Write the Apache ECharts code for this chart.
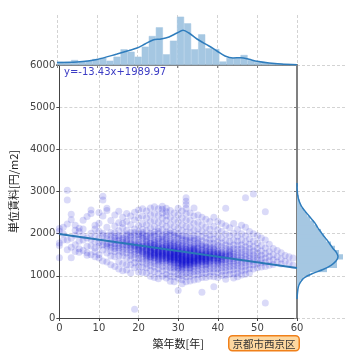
<!DOCTYPE html>
<html><head><meta charset="utf-8">
<script src="https://cdn.jsdelivr.net/npm/echarts@6/dist/echarts.min.js"></script>
<style>html,body{margin:0;padding:0;background:#fff}#c{width:360px;height:360px}</style>
</head><body><div id="c"></div>
<script>
// ---- data ----
const xTicks = [0, 10, 20, 30, 40, 50, 60];
const yTicks = [0, 1000, 2000, 3000, 4000, 5000, 6000];
const slope = -13.43;
const intercept = 1989.97;
const equationText = 'y=-13.43x+1989.97';
const areaName = '京都市西京区';
const xName = '築年数[年]';
const yName = '単位賃料[円/m2]';

// scatter: [age, [unit rents...]]
const ageRents = [
 [0,[2120,2060,1780,1720,1430]],
 [1,[2150,1850,1990]],
 [2,[3030,2800,1850,1620,2230]],
 [3,[2460,2330,1680,1430,1890]],
 [4,[2200,1960,1740,1580,2080]],
 [5,[2130,2050,1820,1640,1560]],
 [6,[2110,1850,1600,1950,2320]],
 [7,[2410,1700,1550,1900,1490]],
 [8,[2560,2010,1860,1500,1710,2480]],
 [9,[2200,1950,2110,1660,1450,1810,1570]],
 [10,[2500,2060,1900,2250,1700,1500,1420,1790]],
 [11,[2890,2800,2420,2010,1820,1610,1350,1960,1740]],
 [12,[2600,2550,2150,1880,1760,1690,1540,1330,1950,1720]],
 [13,[2310,2030,1870,1790,1740,1680,1590,1470,1260,1960]],
 [14,[2440,2180,1930,1830,1760,1710,1650,1580,1450,1220,2020,1890]],
 [15,[2530,2260,2070,1910,1840,1770,1720,1660,1590,1480,1330,1160,1950]],
 [16,[2390,2140,1980,1890,1800,1740,1700,1630,1560,1470,1290,1120,2240,1850]],
 [17,[2480,2290,2080,1950,1870,1790,1730,1690,1620,1540,1430,1270,1140,1990,1830]],
 [18,[2420,2210,2030,1920,1850,1780,1710,1670,1610,1550,1480,1390,1260,1070,1960,1750]],
 [19,[2510,2330,2110,1960,1870,1800,1740,1690,1630,1580,1510,1420,1310,1190,210,2030,1720]],
 [20,[2560,2380,2190,2040,1930,1860,1790,1740,1690,1640,1590,1540,1480,1410,1330,1220,1090,1980,1710,1620]],
 [21,[2590,2420,2240,2100,1980,1890,1820,1760,1710,1660,1620,1580,1530,1470,1400,1320,1210,1080,1940,1690,1560,2030]],
 [22,[2540,2370,2210,2070,1960,1870,1800,1740,1690,1650,1610,1570,1530,1480,1420,1360,1280,1190,1070,1820,1600,1510,1710,1930,1450]],
 [23,[2610,2450,2290,2130,2010,1910,1830,1760,1710,1660,1620,1580,1540,1500,1450,1390,1320,1240,1130,990,1680,1600,1560,1780,1420,1960,1470]],
 [24,[2640,2480,2320,2170,2040,1940,1850,1780,1720,1670,1630,1590,1550,1510,1470,1420,1360,1290,1210,1100,960,1650,1610,1530,1490,1740,1440,1810,1980]],
 [25,[2590,2430,2270,2120,2000,1900,1820,1750,1690,1640,1600,1560,1520,1480,1440,1390,1330,1260,1170,1060,930,1660,1580,1500,1710,1410,1870,1540,2050,1350]],
 [26,[2650,2580,2490,2370,2230,2090,1970,1870,1790,1720,1660,1610,1570,1530,1490,1450,1410,1360,1300,1220,1120,990,1640,1550,1470,1680,1390,1820,1510,1930]],
 [27,[2600,2520,2430,2310,2170,2040,1930,1840,1770,1710,1660,1610,1570,1530,1490,1450,1410,1360,1300,1230,1140,1030,950,1690,1590,1510,1430,1740,1380,1880,1550,1990]],
 [28,[2550,2390,2230,2080,1960,1860,1780,1720,1660,1610,1570,1530,1490,1450,1410,1370,1320,1260,1190,1100,990,870,1640,1550,1470,1390,1700,1340,1820,1510,2010,1430]],
 [29,[2490,2330,2170,2030,1920,1830,1760,1700,1650,1600,1560,1520,1480,1440,1400,1360,1310,1250,1180,1090,980,860,1620,1540,1460,1380,1680,1330,1790,1500,1970,1420,1580,1210]],
 [30,[2600,2440,2280,2130,2000,1890,1800,1730,1670,1620,1570,1530,1490,1450,1410,1370,1330,1290,1240,1180,1110,1030,940,650,1600,1510,1430,1350,1650,1310,1760,1470,1940,1390,1550,1200]],
 [31,[2540,2370,2210,2070,1950,1850,1770,1700,1640,1590,1540,1500,1460,1420,1380,1340,1300,1260,1210,1150,1080,1000,910,810,1570,1480,1400,1320,1620,1280,1730,1440,1900,1360,1520,1180,1240]],
 [32,[2850,2770,2690,2600,2470,2320,2170,2040,1930,1840,1760,1690,1630,1580,1530,1490,1450,1410,1370,1330,1290,1250,1200,1140,1070,980,860,1560,1470,1390,1310,1610,1270,1720,1430,1880,1350]],
 [33,[2490,2320,2160,2020,1900,1800,1720,1650,1590,1540,1490,1450,1410,1370,1330,1290,1250,1200,1140,1070,990,880,1520,1430,1350,1560,1270,1680,1390,1850,1460,1310,1180,1610]],
 [34,[2610,2420,2240,2080,1950,1840,1750,1680,1620,1570,1520,1480,1440,1400,1360,1320,1280,1230,1170,1100,1020,900,1550,1460,1380,1590,1300,1710,1420,1890,1340,1650]],
 [35,[2440,2270,2110,1980,1870,1780,1700,1640,1580,1530,1490,1450,1410,1370,1330,1290,1240,1180,1110,1030,920,1510,1430,1350,1560,1270,1660,1390,1820,1470]],
 [36,[2390,2210,2060,1930,1830,1740,1670,1610,1560,1520,1480,1440,1400,1360,1320,1270,1210,1140,1060,960,610,1500,1420,1340,1540,1380,1700,1460]],
 [37,[2340,2160,2010,1890,1790,1710,1640,1580,1530,1490,1450,1410,1370,1330,1280,1220,1150,1070,960,1510,1430,1350,1560,1390,1680,1260]],
 [38,[2290,2110,1970,1860,1770,1690,1620,1560,1510,1470,1430,1390,1350,1300,1240,1170,1090,990,1490,1410,1540,1330,1650,1450]],
 [39,[2390,2170,2000,1870,1770,1690,1620,1560,1510,1470,1430,1390,1350,1300,1240,1170,1090,980,740,1490,1410,1530,1640]],
 [40,[2290,2090,1930,1810,1720,1640,1580,1520,1470,1430,1390,1350,1300,1240,1170,1080,960,1490,1410,1550,1330]],
 [41,[2240,2050,1900,1780,1690,1610,1550,1500,1450,1410,1370,1320,1260,1190,1110,1010,1470,1390,1530]],
 [42,[2600,2190,1990,1840,1730,1650,1580,1520,1470,1420,1380,1330,1270,1200,1120,1020,920,1490]],
 [43,[2140,1950,1810,1710,1630,1560,1500,1450,1400,1350,1290,1220,1140,1040,1480,1590]],
 [44,[2240,2010,1850,1730,1640,1570,1510,1460,1410,1360,1300,1230,1150,1050,950]],
 [45,[2100,1940,1820,1720,1630,1560,1490,1430,1370,1310,1240,1160,1070,980]],
 [46,[2200,2000,1850,1730,1640,1560,1490,1420,1360,1290,1210,1120,1020]],
 [47,[2850,2150,1950,1800,1690,1600,1520,1450,1380,1310,1230,1140,1040]],
 [48,[2050,1880,1750,1650,1560,1480,1410,1340,1260,1170,1070]],
 [49,[2940,2000,1820,1690,1590,1500,1420,1340,1260,1160]],
 [50,[1950,1780,1650,1550,1460,1380,1290,1190]],
 [51,[1900,1720,1590,1490,1400,1310,1210]],
 [52,[2520,1850,1660,1530,1420,1320,1220,355]],
 [53,[1750,1580,1460,1360,1250]],
 [54,[1650,1500,1380,1270]],
 [55,[1600,1450,1330]],
 [56,[1550,1400,1280]],
 [57,[1480,1340]],
 [58,[1450,1300]],
 [59,[1420,1250]]
];

// top marginal histogram (34 equal bins over 0-60 years), bar heights
const ageHist = [3.3,3.3,5,3.3,4.3,6,7.3,4.3,8.3,15.7,13.3,8.3,18.3,29,37.7,10.7,24.3,48.3,41.7,15.7,30.7,16.7,16,3.5,7,7,10,5,3,2.5,2,1.5,1,0.5];
// top marginal KDE
const ageKdeX = [0,5,10,15,18,20,22,24,26,28,30,31.5,33,35,38,40,42,44,46,48,50,53,56,60];
const ageKdeY = [2.5,3,5.5,11,14.5,17,21,25,26,28,32,34.7,32,26,19,14,9,7,7.3,5.7,3.7,2,1,0.2];

// right marginal histogram (bins of 100 from 0 to 6000), bar lengths
const rentHist = [0,0,0,0,0,0,0.5,1,3,6,13,30,40,40,46,42,38,34,29,27,24,20,17,13,10,7,4,3,2,1,1,0,0,0,0,0,0,0,0,0,0,0,0,0,0,0,0,0,0,0,0,0,0,0,0,0,0,0,0,0];
// right marginal KDE
const rentKdeY = [450,600,750,850,950,1050,1150,1250,1350,1450,1550,1650,1750,1850,1950,2050,2150,2250,2350,2450,2550,2650,2750,2850,2950,3050,3200];
const rentKdeX = [0,0.5,1.5,3.5,7,15,26,34,39,41,39.5,36,33,30,26.5,23.5,20.5,18,14.5,11,7.5,4.5,2.5,1.2,0.5,0.2,0];

// ---- build ----
const scatterData = [];
ageRents.forEach(r => r[1].forEach(v => scatterData.push([r[0], v])));
const regData = [[xTicks[0], intercept + slope * xTicks[0]], [xTicks[xTicks.length-1], intercept + slope * xTicks[xTicks.length-1]]];
const ageKde = ageKdeX.map((x, i) => [x, ageKdeY[i]]);
const rentKde = rentKdeY.map((y, i) => [rentKdeX[i], y]);
const ageCats = ageHist.map((_, i) => 'b' + i);
const rentCats = rentHist.map((_, i) => String(i * 100));

const FONT = '"DejaVu Sans", "Noto Sans CJK JP", sans-serif';
const JFONT = '"Noto Sans CJK JP", sans-serif';
const dashed = {show: true, lineStyle: {color: '#c8c8c8', type: [3, 2], width: 0.8}};
const histColor = '#a5c7e2';
const kdeColor = '#2f7dbd';

const chart = echarts.init(document.getElementById('c'), null, {renderer: 'canvas'});
chart.setOption({
  animation: false,
  backgroundColor: '#fff',
  textStyle: {fontFamily: FONT},
  grid: [
    {left: 57, top: 65, width: 240, height: 253},   // main
    {left: 57, top: 15, width: 240, height: 50},    // top
    {left: 297, top: 65, width: 50, height: 253}    // right
  ],
  xAxis: [
    {gridIndex: 0, type: 'value', min: 0, max: 60, interval: 10, position: 'bottom',
     name: xName, nameLocation: 'middle', nameGap: 19,
     nameTextStyle: {fontFamily: JFONT, fontSize: 11, color: '#222'},
     axisLine: {lineStyle: {color: '#444', width: 1}},
     axisTick: {show: true, length: 3, lineStyle: {color: '#444'}},
     axisLabel: {fontSize: 10, color: '#444', margin: 5},
     splitLine: dashed},
    {gridIndex: 1, type: 'category', data: ageCats, boundaryGap: true, show: false, position: 'bottom'},
    {gridIndex: 1, type: 'value', min: 0, max: 60, interval: 10, position: 'bottom',
     axisLine: {show: true, lineStyle: {color: '#808080', width: 2}},
     axisTick: {show: true, length: 3, lineStyle: {color: '#808080'}},
     axisLabel: {show: false}, splitLine: dashed},
    {gridIndex: 2, type: 'value', min: 0, max: 50, show: false}
  ],
  yAxis: [
    {gridIndex: 0, type: 'value', min: 0, max: 6000, interval: 1000, position: 'left',
     name: yName, nameLocation: 'middle', nameGap: 23,
     nameTextStyle: {fontFamily: JFONT, fontSize: 11, color: '#222'},
     axisLine: {show: true, lineStyle: {color: '#444', width: 1}},
     axisTick: {show: true, length: 3, lineStyle: {color: '#444'}},
     axisLabel: {fontSize: 10, color: '#444', margin: 4, formatter: v => String(v)},
     splitLine: dashed},
    {gridIndex: 1, type: 'value', min: 0, max: 50, show: false},
    {gridIndex: 2, type: 'category', data: rentCats, boundaryGap: true, show: false, position: 'left'},
    {gridIndex: 2, type: 'value', min: 0, max: 6000, interval: 1000, position: 'left',
     axisLine: {show: true, lineStyle: {color: '#808080', width: 2}},
     axisTick: {show: true, length: 3, lineStyle: {color: '#808080'}},
     axisLabel: {show: false}, splitLine: dashed}
  ],
  series: [
    {type: 'scatter', xAxisIndex: 0, yAxisIndex: 0, data: scatterData,
     symbolSize: 7, itemStyle: {color: 'rgba(0,0,205,0.18)'}, z: 2},
    {type: 'line', xAxisIndex: 0, yAxisIndex: 0, data: regData, showSymbol: false,
     lineStyle: {color: '#2a78b6', width: 2}, z: 5},
    {type: 'bar', xAxisIndex: 1, yAxisIndex: 1, data: ageHist, barWidth: '100%',
     barCategoryGap: 0, itemStyle: {color: histColor, borderColor: histColor, borderWidth: 0.5}},
    {type: 'line', xAxisIndex: 2, yAxisIndex: 1, data: ageKde, showSymbol: false, smooth: 0.3,
     lineStyle: {color: kdeColor, width: 1.5}},
    {type: 'bar', xAxisIndex: 3, yAxisIndex: 2, data: rentHist, barWidth: '125%',
     barCategoryGap: 0, itemStyle: {color: histColor}},
    {type: 'line', xAxisIndex: 3, yAxisIndex: 3, data: rentKde, showSymbol: false, smooth: 0.3,
     lineStyle: {color: kdeColor, width: 1.5}}
  ],
  graphic: [
    {type: 'text', left: 64, top: 67, z: 10,
     style: {text: equationText, fontSize: 10, fill: '#3c3cc4', fontFamily: FONT}},
    {type: 'text', left: 228, top: 335, z: 10,
     style: {text: areaName, fontSize: 10.5, fill: '#333', fontFamily: JFONT,
       backgroundColor: '#fdd8a0', borderColor: '#f0801a', borderWidth: 1.5,
       borderRadius: 3, padding: [2, 3, 1, 3]}}
  ]
});
</script></body></html>
